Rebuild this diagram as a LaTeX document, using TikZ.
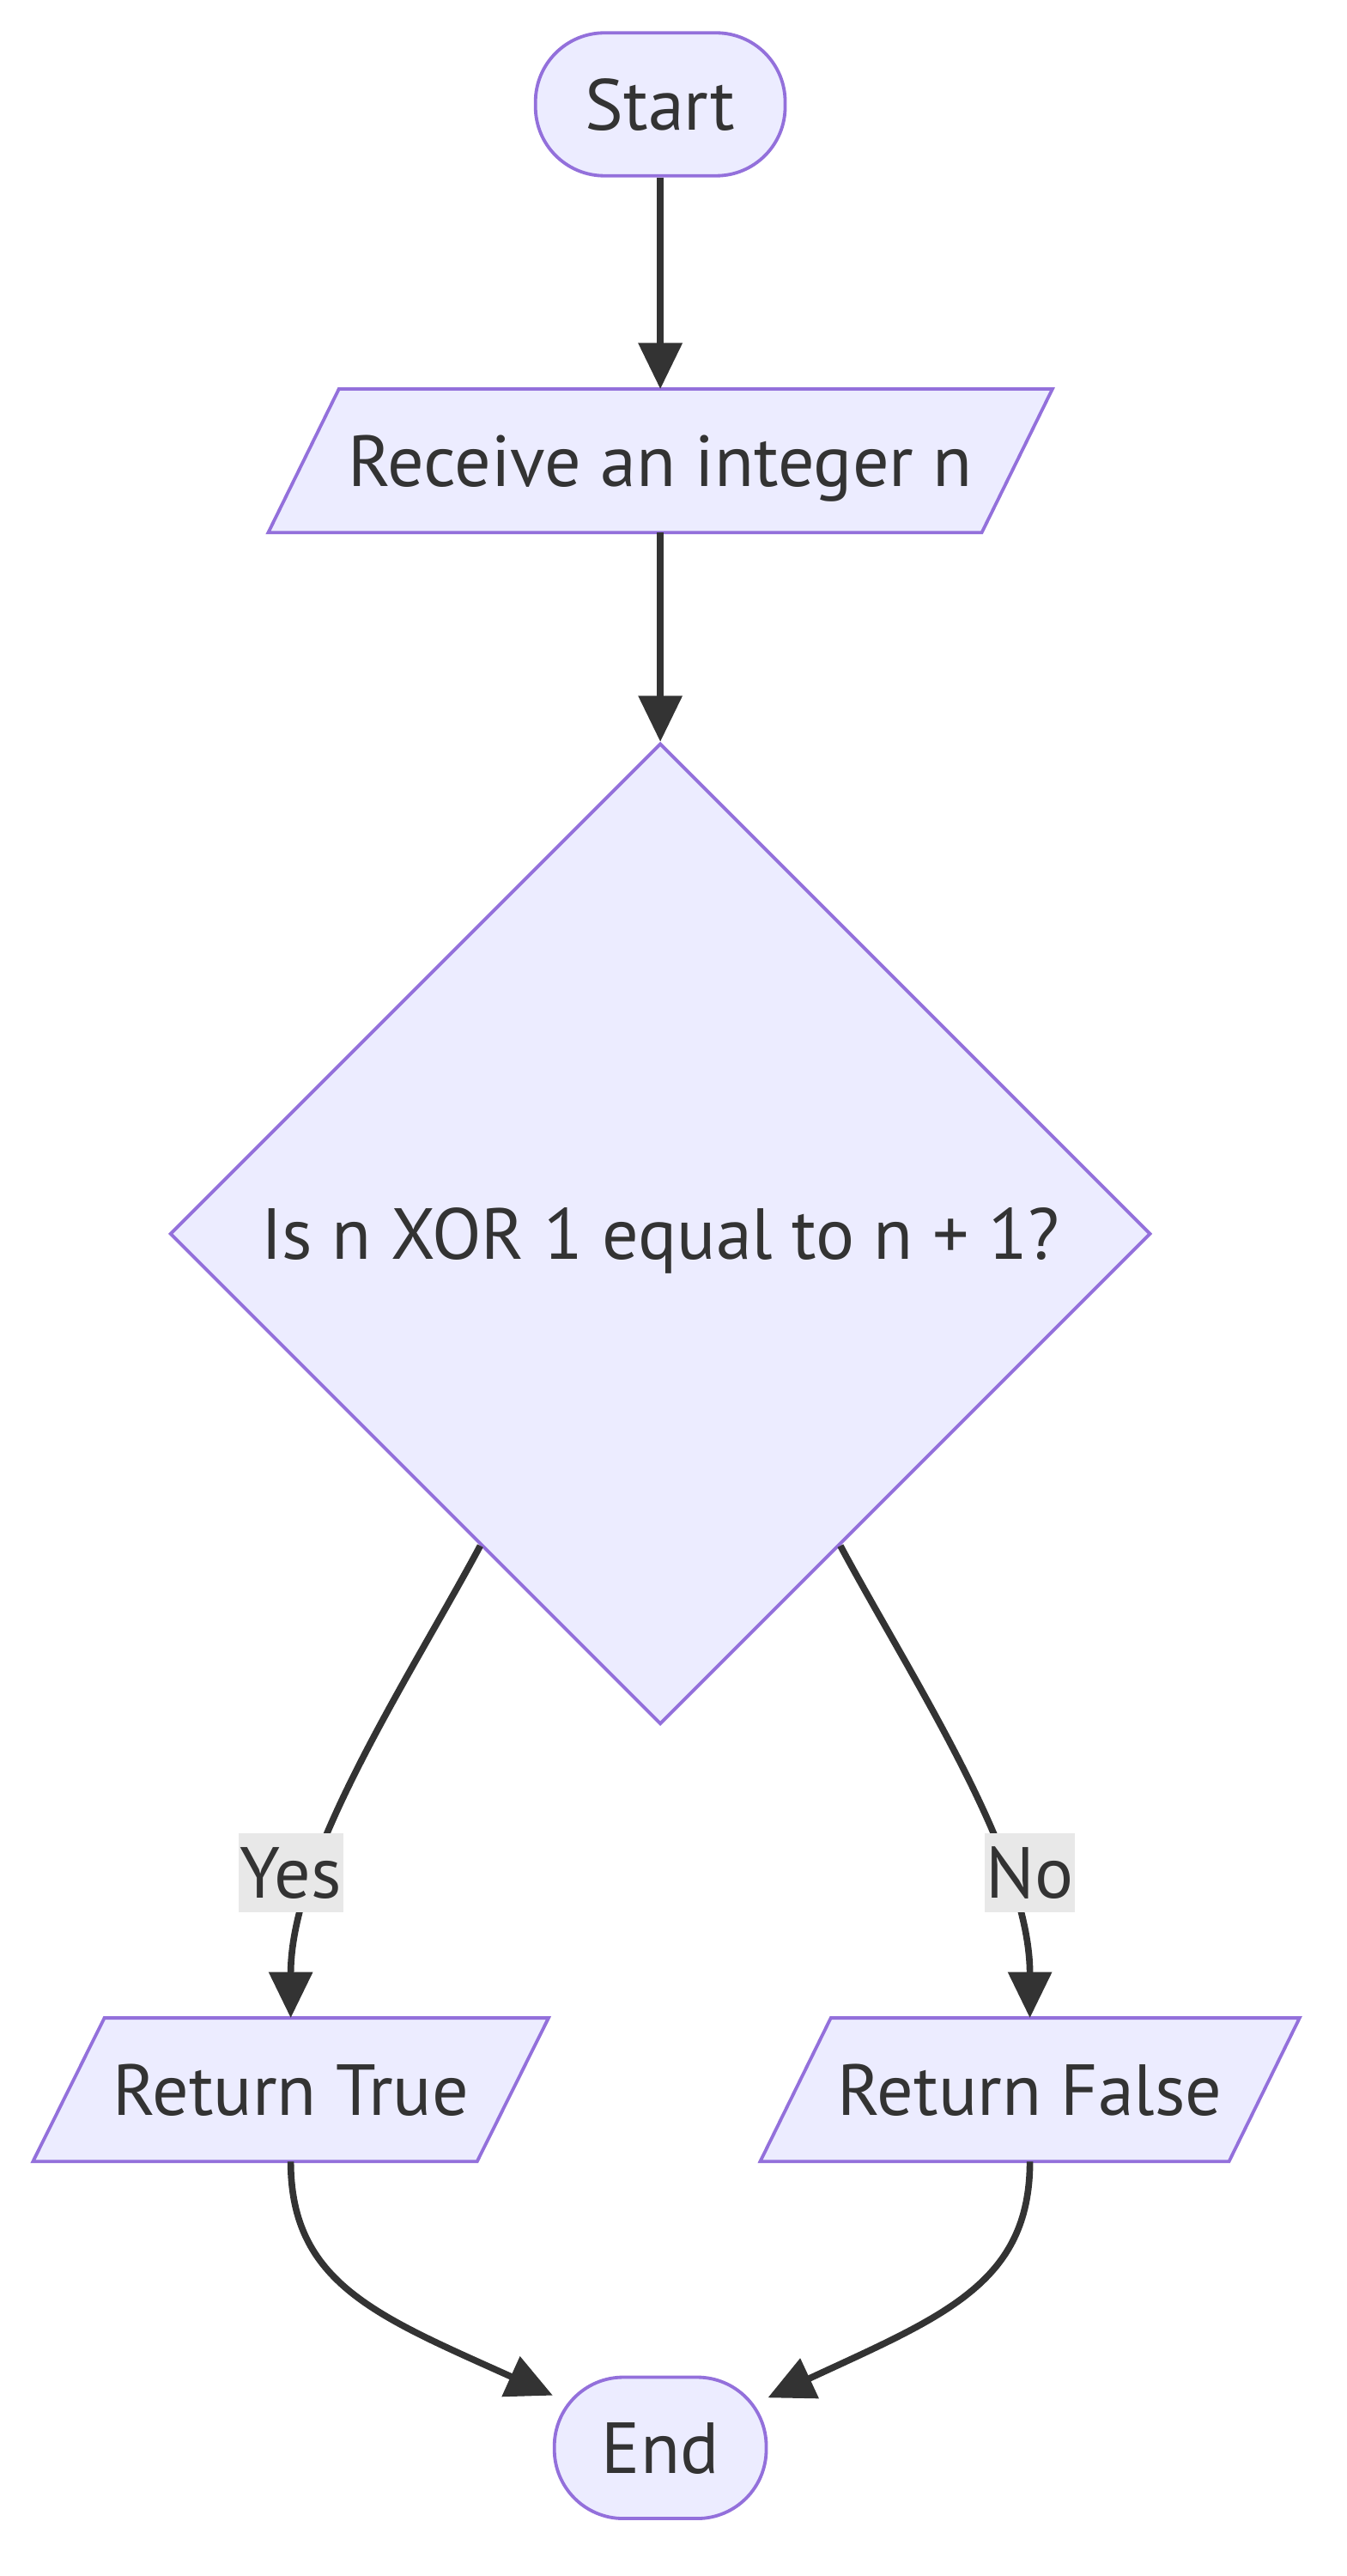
\documentclass[tikz,border=0pt]{standalone}
\usepackage{fontspec}
\setmainfont{PT Sans}
\usetikzlibrary{arrows.meta,shapes.geometric,backgrounds}
\definecolor{nodefill}{HTML}{ECECFF}
\definecolor{nodeline}{HTML}{9370DB}
\definecolor{edgecol}{HTML}{333333}
\definecolor{labelfill}{HTML}{E8E8E8}
\tikzset{
  txt/.style={text=edgecol,font=\fontsize{44}{52}\selectfont,text height=31pt,text depth=0pt},
  stadium/.style={txt,rectangle,rounded corners=42pt,draw=nodeline,fill=nodefill,line width=2pt,inner sep=0pt},
  iobox/.style={txt,rectangle,inner sep=0pt,minimum height=87pt},
  ioline/.style={draw=nodeline,fill=nodefill,line width=2pt,line join=miter},
  decision/.style={txt,diamond,aspect=1,draw=nodeline,fill=nodefill,line width=2pt,minimum width=597pt,minimum height=597pt,inner sep=0pt},
  edge/.style={draw=edgecol,line width=4pt,-{Triangle[length=28pt,width=26pt]}},
  elabel/.style={txt,fill=labelfill,inner xsep=1pt,inner ysep=0pt,minimum height=48pt}
}
\begin{document}
\begin{tikzpicture}[x=1pt,y=-1pt]
\useasboundingbox (0,0) rectangle (820,1568);
\node[stadium,minimum width=152pt,minimum height=87pt] (start) at (402,63.5) {Start};
\node[iobox,minimum width=434pt] (recv) at (402,280.5) {Receive an integer n};
\node[decision] (dia) at (402,751) {Is n XOR 1 equal to n + 1?};
\node[iobox,minimum width=270pt] (rt) at (177,1272) {Return True};
\node[iobox,minimum width=285pt] (rf) at (627,1272) {Return False};
\node[stadium,minimum width=129pt,minimum height=86pt] (end) at (402,1490) {End};
\begin{scope}[on background layer]
\path[ioline] ([xshift=21.5pt]recv.north west) -- ([xshift=21.5pt]recv.north east) -- ([xshift=-21.5pt]recv.south east) -- ([xshift=-21.5pt]recv.south west) -- cycle;
\path[ioline] ([xshift=21.75pt]rt.north west) -- ([xshift=21.75pt]rt.north east) -- ([xshift=-21.75pt]rt.south east) -- ([xshift=-21.75pt]rt.south west) -- cycle;
\path[ioline] ([xshift=21.5pt]rf.north west) -- ([xshift=21.5pt]rf.north east) -- ([xshift=-21.5pt]rf.south east) -- ([xshift=-21.5pt]rf.south west) -- cycle;
\end{scope}
\draw[edge] (start.south) -- (recv.north);
\draw[edge] (recv.south) -- (dia.north);
\draw[edge] (dia.240) .. controls (250,1020) and (177,1130) .. (rt.north);
\draw[edge] (dia.300) .. controls (554,1020) and (627,1130) .. (rf.north);
\draw[edge] (rt.south) .. controls (177,1390) and (230,1410) .. (end.154.5);
\draw[edge] (rf.south) .. controls (627,1390) and (574,1410) .. (end.25.5);
\node[elabel] (yes) at (177,1140) {Yes};
\node[elabel] (no) at (627,1140) {No};
\end{tikzpicture}
\end{document}
